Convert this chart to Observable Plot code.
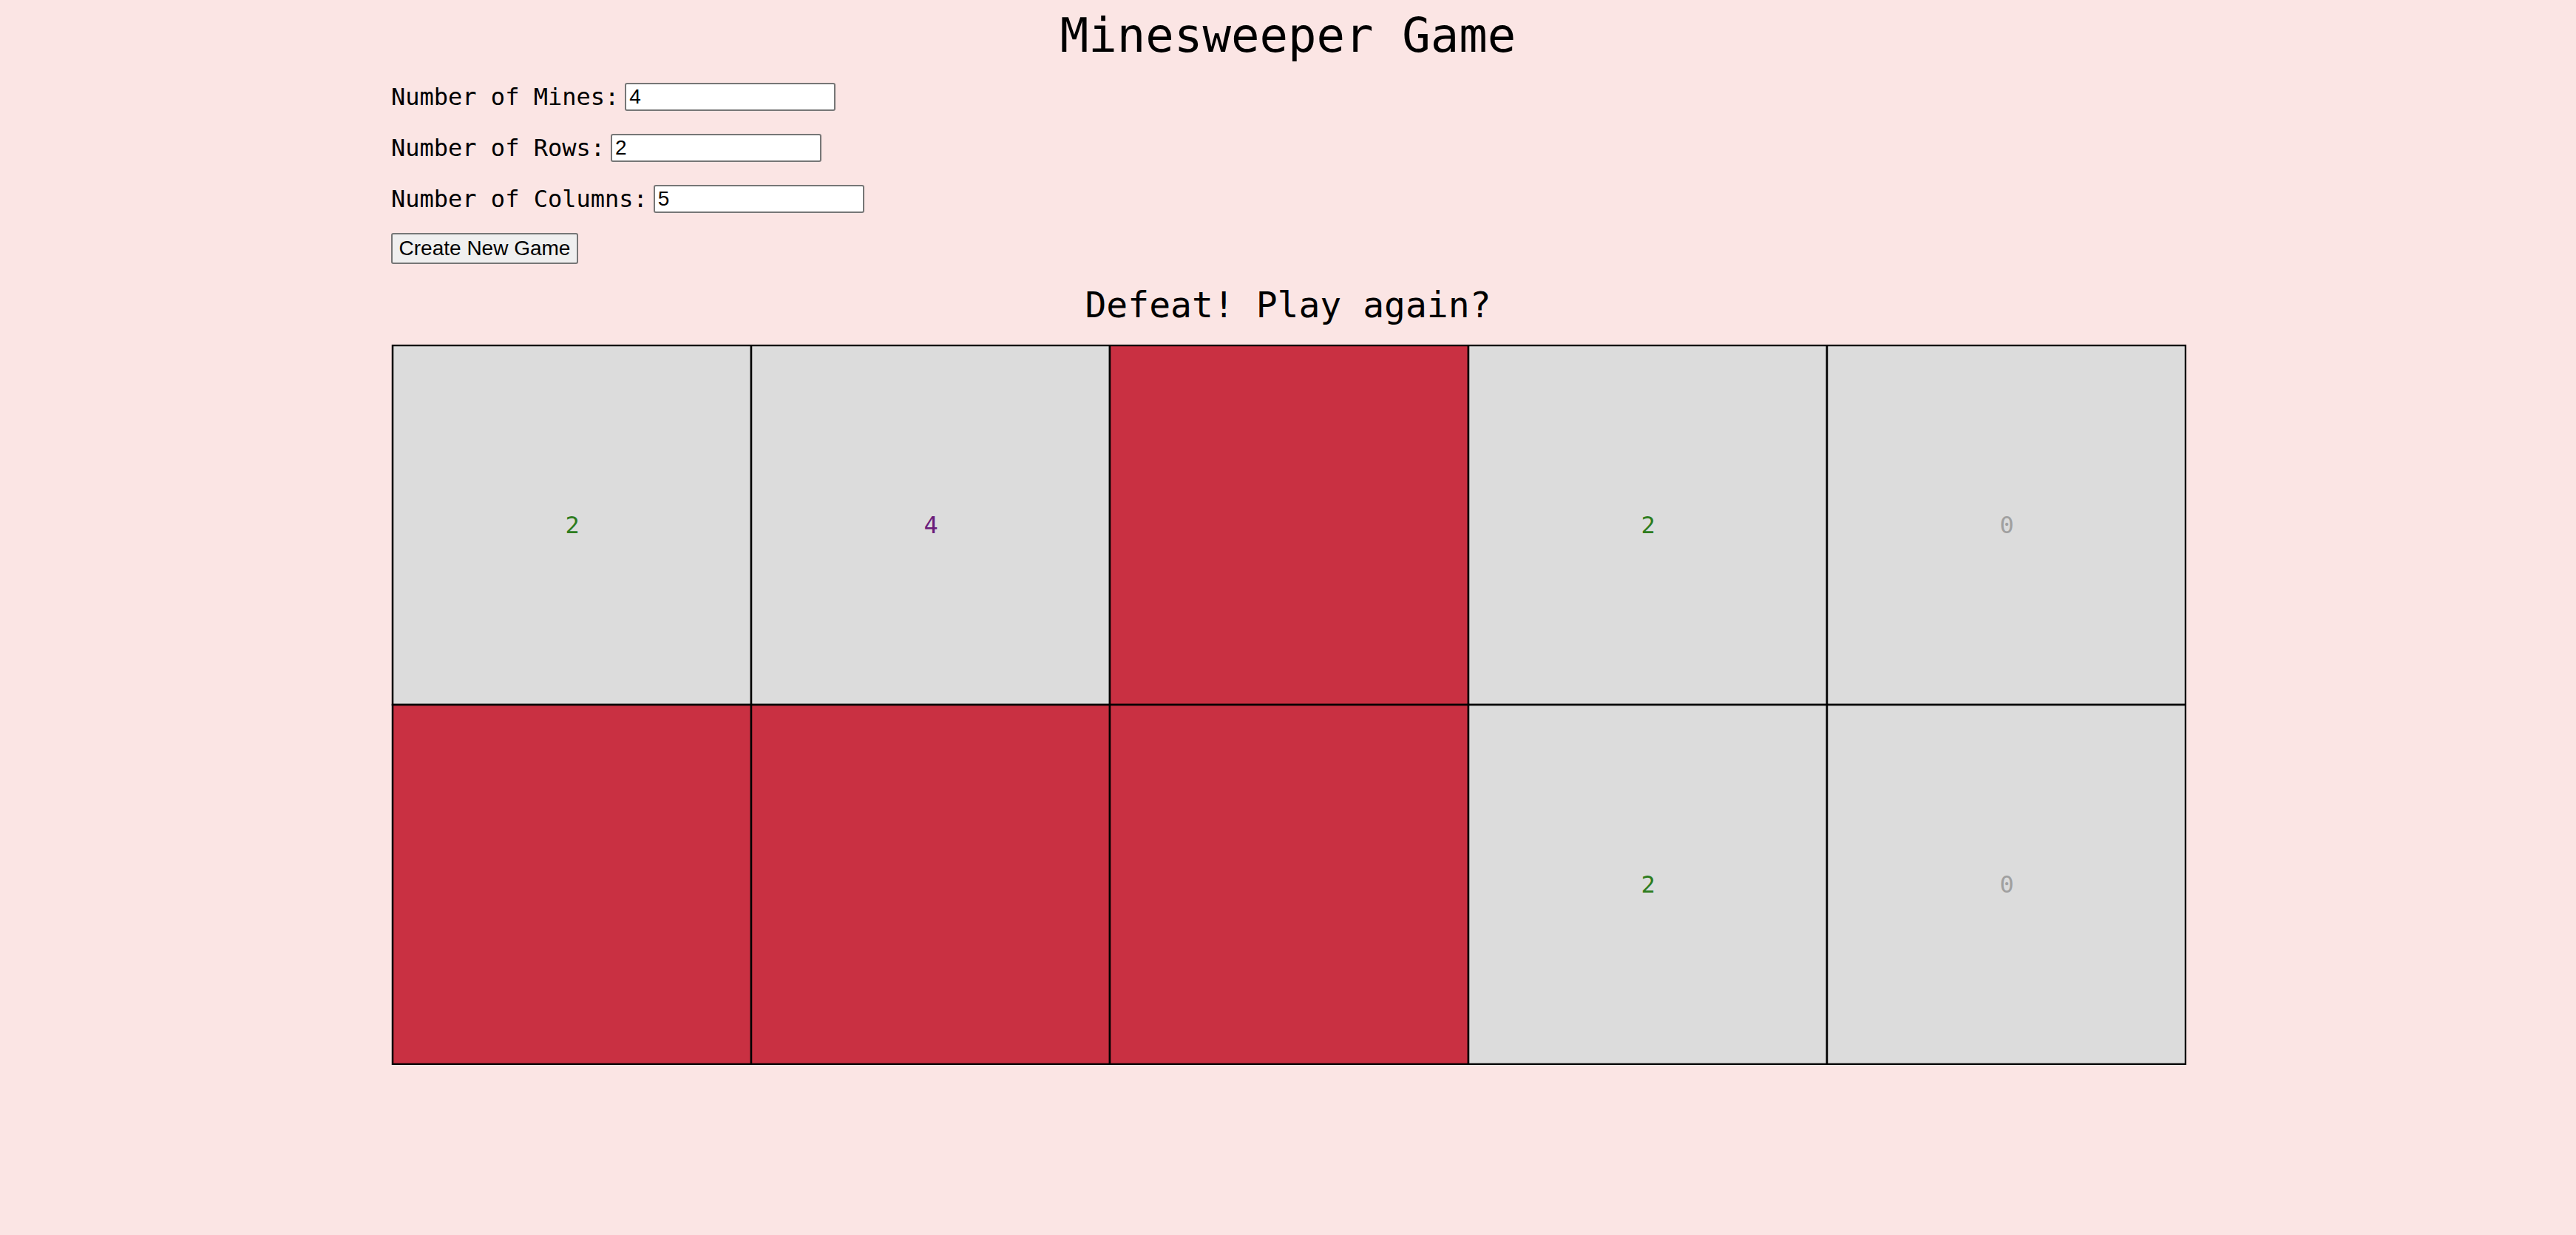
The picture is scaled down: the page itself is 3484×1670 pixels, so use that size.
<!DOCTYPE html>
<html>
<head>
<meta charset="utf-8">
<script src="https://cdn.jsdelivr.net/npm/d3@7"></script>
<script src="https://cdn.jsdelivr.net/npm/@observablehq/plot@0.6"></script>
<style>
  body { margin: 0; background: #fbe5e4; font-family: "DejaVu Sans Mono", monospace; width: 3484px; height: 1670px; position: relative; overflow: hidden; }
  h1 { position: absolute; top: 8px; left: 0; width: 100%; margin: 0; text-align: center; font-size: 64px; font-weight: normal; line-height: 80px; }
  .row { position: absolute; left: 529px; font-size: 32px; display: flex; align-items: center; height: 44px; }
  .row input { width: 285px; height: 38px; font: 28px Arial, sans-serif; margin-left: 8px; padding: 0 4px; border: 2px solid #767676; border-radius: 3px; box-sizing: border-box; }
  button { font: 28px Arial, sans-serif; height: 42px; width: 253px; border: 2px solid #767676; border-radius: 3px; background: #efefef; padding: 0; }
  h2 { position: absolute; top: 382px; left: 0; width: 100%; margin: 0; text-align: center; font-size: 48px; font-weight: normal; line-height: 60px; }
  #chart { position: absolute; left: 529px; top: 466px; }
</style>
</head>
<body>
<h1>Minesweeper Game</h1>
<div class="row" style="top:109px">Number of Mines:<input value="4"></div>
<div class="row" style="top:178px">Number of Rows:<input value="2"></div>
<div class="row" style="top:247px">Number of Columns:<input value="5"></div>
<div class="row" style="top:314px"><button>Create New Game</button></div>
<h2>Defeat! Play again?</h2>
<div id="chart"></div>
<script>
const rows = 2, cols = 5;
const mines = [[0, 2], [1, 0], [1, 1], [1, 2]];
const counts = [
  [2, 4, null, 2, 0],
  [null, null, null, 2, 0]
];
const numberColors = {0: "#a0a0a0", 1: "#1f4fd0", 2: "#2e7d1e", 3: "#c02020", 4: "#6a1b7a"};

const cells = [];
for (let r = 0; r < rows; r++) for (let c = 0; c < cols; c++) {
  const mine = mines.some(([mr, mc]) => mr === r && mc === c);
  cells.push({r, c, mine, n: counts[r][c]});
}

const chart = Plot.plot({
  width: 2428, height: 974,
  margin: 1,
  x: {domain: d3.range(cols), axis: null, padding: 0},
  y: {domain: d3.range(rows), axis: null, padding: 0},
  style: {background: "transparent"},
  marks: [
    Plot.cell(cells, {x: "c", y: "r", fill: d => d.mine ? "#c93042" : "#dcdcdc", stroke: "black", strokeWidth: 2.5, inset: 0}),
    Plot.text(cells.filter(d => !d.mine), {x: "c", y: "r", text: d => String(d.n), fill: d => numberColors[d.n], fontSize: 32, fontFamily: "DejaVu Sans Mono"})
  ]
});
document.getElementById("chart").append(chart);
</script>
</body>
</html>
